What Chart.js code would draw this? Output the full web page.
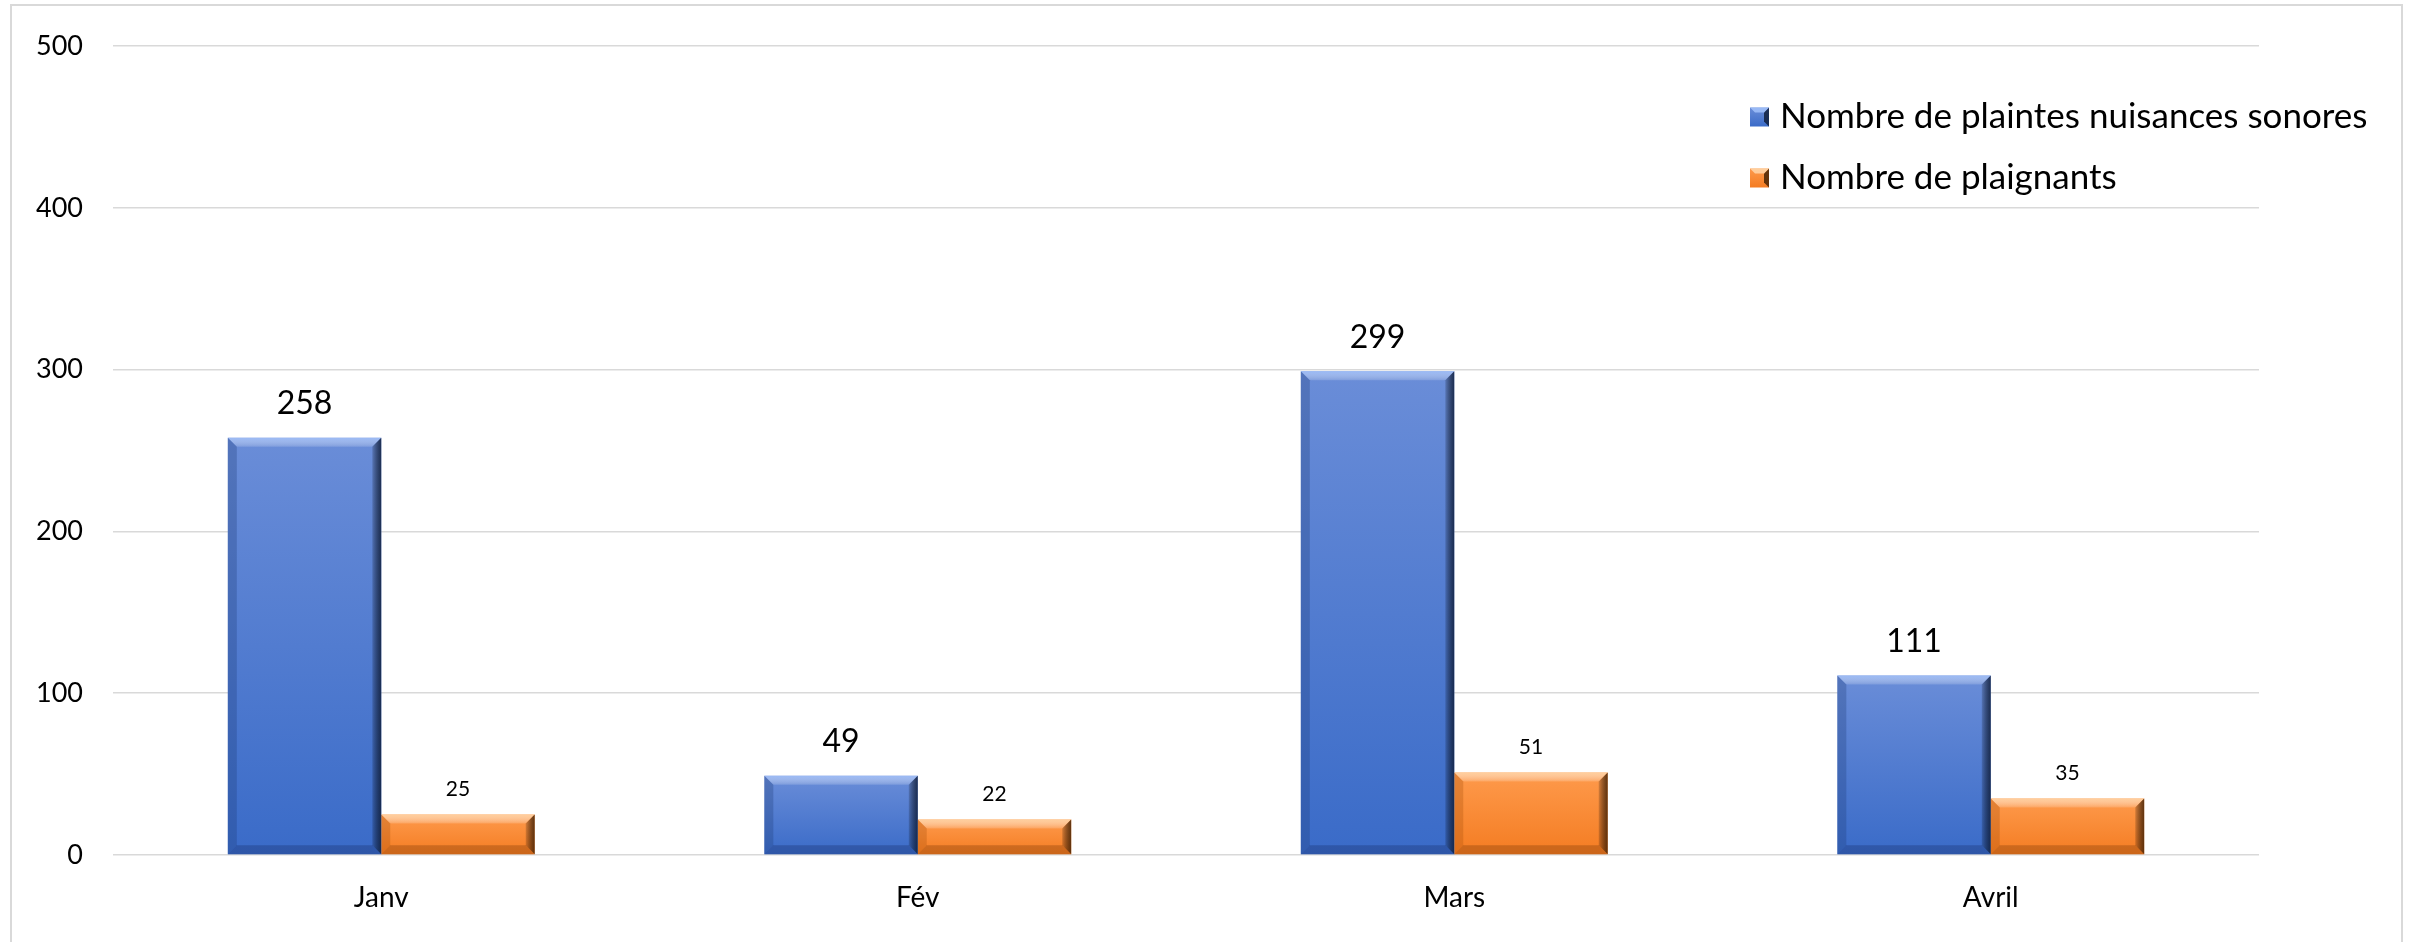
<!DOCTYPE html>
<html><head><meta charset="utf-8">
<script src="https://cdn.jsdelivr.net/npm/chart.js@4/dist/chart.umd.min.js"></script>
<style>
html,body{margin:0;padding:0;background:#fff;overflow:hidden;}
#frame{position:absolute;left:10px;top:4px;width:2393px;height:980px;border:2px solid #d9d9d9;box-sizing:border-box;}
#wrap{position:absolute;left:0;top:0;width:2412px;height:942px;}
</style></head><body>
<div id="frame"></div>
<div id="wrap"><canvas id="c" width="2412" height="942"></canvas></div>
<script>
const categories = ['Janv', 'Fév', 'Mars', 'Avril'];
const plaintes = [258, 49, 299, 111];
const plaignants = [25, 22, 51, 35];
const seriesLabels = ['Nombre de plaintes nuisances sonores', 'Nombre de plaignants'];
const yMin = 0, yMax = 500, yStep = 100;

const FONT = 'Lato, "Open Sans", sans-serif';
const styles = [
  {top:'#6a8dd8', bottom:'#3a6bc8', hi:'rgba(170,200,255,0.75)', left:'rgba(30,60,120,0.3)', right:'rgba(15,30,60,0.85)', bot:'rgba(25,50,110,0.35)', labelSize:32, labelOff:34},
  {top:'#fe9a4c', bottom:'#f47c22', hi:'rgba(255,215,170,0.85)', left:'rgba(170,80,10,0.3)', right:'rgba(70,35,5,0.85)', bot:'rgba(130,60,10,0.35)', labelSize:21, labelOff:25}
];

function grad(i){
  return function(ctx){
    const chart = ctx.chart, s = styles[i];
    if(!chart.chartArea || ctx.raw === undefined) return s.bottom;
    const ys = chart.scales.y;
    const t = ys.getPixelForValue(ctx.raw), b = ys.getPixelForValue(0);
    const g = chart.ctx.createLinearGradient(0, t, 0, b);
    g.addColorStop(0, s.top); g.addColorStop(1, s.bottom);
    return g;
  };
}

const bevelPlugin = {
  id:'bevel',
  afterDatasetsDraw(chart){
    const c = chart.ctx;
    chart.data.datasets.forEach((ds, di) => {
      const meta = chart.getDatasetMeta(di), s = styles[di];
      meta.data.forEach((el, idx) => {
        const p = el.getProps(['x','y','base','width'], true);
        const L = p.x - p.width/2, R = p.x + p.width/2, T = p.y, B = p.base;
        const bv = Math.min(9, (B - T)/2);
        const poly = (pts, col) => { c.beginPath(); c.moveTo(pts[0][0], pts[0][1]); for(let k=1;k<pts.length;k++) c.lineTo(pts[k][0], pts[k][1]); c.closePath(); c.fillStyle = col; c.fill(); };
        c.save();
        const gt = c.createLinearGradient(0, T, 0, T+bv);
        gt.addColorStop(0, s.hi); gt.addColorStop(1, 'rgba(255,255,255,0.15)');
        poly([[L,T],[R,T],[R-bv,T+bv],[L+bv,T+bv]], gt);
        poly([[L,T],[L+bv,T+bv],[L+bv,B-bv],[L,B]], s.left);
        const gr = c.createLinearGradient(R-bv, 0, R, 0);
        gr.addColorStop(0, 'rgba(0,0,0,0.15)'); gr.addColorStop(1, s.right);
        poly([[R,T],[R,B],[R-bv,B-bv],[R-bv,T+bv]], gr);
        poly([[L,B],[R,B],[R-bv,B-bv],[L+bv,B-bv]], s.bot);
        c.fillStyle = '#000';
        c.font = s.labelSize + 'px ' + FONT;
        c.textAlign = 'center'; c.textBaseline = 'middle';
        c.fillText(String(ds.data[idx]), p.x, T - s.labelOff);
        c.restore();
      });
    });
  }
};

const legendPlugin = {
  id:'customLegend',
  afterDraw(chart){
    const c = chart.ctx;
    const x0 = 1750, ys = [117, 178], box = 19;
    c.save();
    chart.data.datasets.forEach((ds, i) => {
      const s = styles[i], cy = ys[i];
      const g = c.createLinearGradient(0, cy-box/2, 0, cy+box/2);
      g.addColorStop(0, s.top); g.addColorStop(1, s.bottom);
      c.fillStyle = g; c.fillRect(x0, cy-box/2, box, box);
      c.fillStyle = s.right;
      c.beginPath(); c.moveTo(x0+box, cy-box/2); c.lineTo(x0+box, cy+box/2); c.lineTo(x0+box-5, cy+box/2-5); c.lineTo(x0+box-5, cy-box/2+5); c.closePath(); c.fill();
      c.fillStyle = s.hi;
      c.beginPath(); c.moveTo(x0, cy-box/2); c.lineTo(x0+box, cy-box/2); c.lineTo(x0+box-5, cy-box/2+5); c.lineTo(x0+5, cy-box/2+5); c.closePath(); c.fill();
      c.fillStyle = '#000';
      c.font = '35px ' + FONT;
      c.textAlign = 'left'; c.textBaseline = 'middle';
      c.fillText(ds.label, x0 + 30, cy);
    });
    c.restore();
  }
};

new Chart(document.getElementById('c'), {
  type:'bar',
  data:{
    labels: categories,
    datasets:[
      {label: seriesLabels[0], data: plaintes, backgroundColor: grad(0), borderWidth:0},
      {label: seriesLabels[1], data: plaignants, backgroundColor: grad(1), borderWidth:0}
    ]
  },
  options:{
    responsive:false, animation:false,
    categoryPercentage:0.572, barPercentage:1.0,
    layout:{padding:{left:0, right:153, top:38, bottom:0}},
    plugins:{legend:{display:false}, tooltip:{enabled:false}},
    scales:{
      y:{
        min:yMin, max:yMax,
        ticks:{stepSize:yStep, color:'#000', font:{family:FONT, size:27}, padding:30},
        grid:{color:'#d9d9d9', lineWidth:1.5, drawTicks:false},
        border:{display:false},
        afterFit(scale){ scale.width = 113; }
      },
      x:{
        ticks:{color:'#000', font:{family:FONT, size:28}, padding:26},
        grid:{display:false, drawTicks:false},
        border:{display:false},
        afterFit(scale){ scale.height = 87; }
      }
    }
  },
  plugins:[bevelPlugin, legendPlugin]
});
</script>
</body></html>
